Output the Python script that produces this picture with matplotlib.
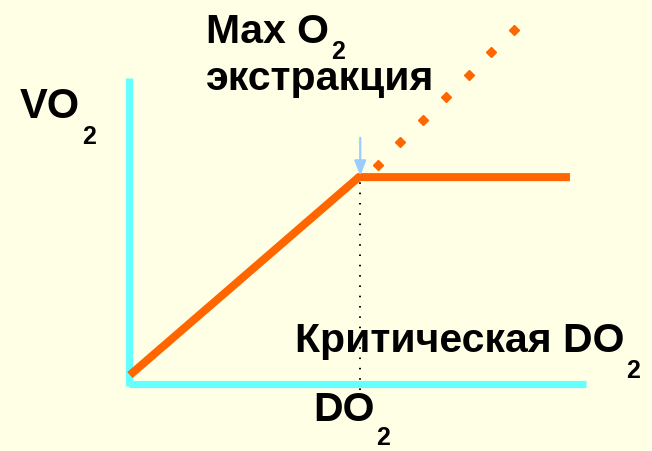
import matplotlib.pyplot as plt

# DO2 (x) and VO2 (y) in relative units, 0..100 on each axis
do2_supply = [0.2, 50.3, 96.5]
vo2_supply = [2.6, 67.5, 67.5]

# extrapolation of the supply-dependent part (max O2 extraction)
do2_extr = [54.5, 59.4, 64.4, 69.3, 74.3, 79.2, 84.2]
vo2_extr = [71.5, 78.9, 86.3, 93.7, 101.1, 108.5, 115.9]

do2_crit = 50.6

bg = '#FFFFE5'
cyan = '#66FFFF'
orange = '#FF6600'

W, H = 652, 451
fig = plt.figure(figsize=(W / 100, H / 100), dpi=100, facecolor=bg)

# plot area: x 0..100 -> px 129..586, y 0..100 -> px 383..78
x0, x1 = 129, 586
y0, y100 = 383, 78
ymax = 120
ypx_top = y0 - (y0 - y100) * ymax / 100
ax = fig.add_axes([x0 / W, (H - y0) / H, (x1 - x0) / W, (y0 - ypx_top) / H])
ax.set_xlim(0, 100)
ax.set_ylim(0, ymax)
ax.axis('off')
ax.patch.set_alpha(0)

# cyan axes
ax.plot([0, 0], [-1.0, 100], color=cyan, lw=5.2, solid_capstyle='butt', clip_on=False)
ax.plot([0, 100], [-0.2, -0.2], color=cyan, lw=5.2, solid_capstyle='butt', clip_on=False)

# critical DO2 marker line
ax.plot([do2_crit, do2_crit], [-2.3, vo2_supply[1]], color='black', lw=1.4,
        linestyle=(0, (0.8, 4.5)), clip_on=False)

# VO2 / DO2 relation
ax.plot(do2_supply, vo2_supply, color=orange, lw=5.8, solid_capstyle='butt',
        solid_joinstyle='miter', clip_on=False)
ax.plot(do2_extr, vo2_extr, linestyle='none', marker='D', ms=5.2, color=orange,
        clip_on=False)

# arrow pointing at the breakpoint
ax.annotate('', xy=(do2_crit, 67.9), xytext=(do2_crit, 80.4),
            arrowprops=dict(arrowstyle='-|>,head_length=0.9,head_width=0.35',
                            color='#99CCFF', lw=1.6, shrinkA=0, shrinkB=0))

renderer = fig.canvas.get_renderer()


def label(x, y, s, size, sub=None, sub_drop=26, sub_size=18):
    t = fig.text(x / W, 1 - y / H, s, fontsize=size, fontweight='bold',
                 family='Liberation Sans', color='black', ha='left', va='baseline')
    if sub:
        bb = t.get_window_extent(renderer)
        fig.text((bb.x1 + 2) / W, 1 - (y + sub_drop) / H, sub, fontsize=sub_size,
                 fontweight='bold', family='Liberation Sans', color='black',
                 ha='left', va='baseline')


label(20, 118, 'VO', 30, '2')
label(313, 421, 'DO', 29.5, '2', sub_drop=24)
label(206, 43, 'Max O', 29.5, '2', sub_drop=16)
label(206, 90, 'экстракция', 29.5)
label(295, 352, 'Критическая DO', 29.5, '2')

fig.savefig('out.png', dpi=100, facecolor=bg)
